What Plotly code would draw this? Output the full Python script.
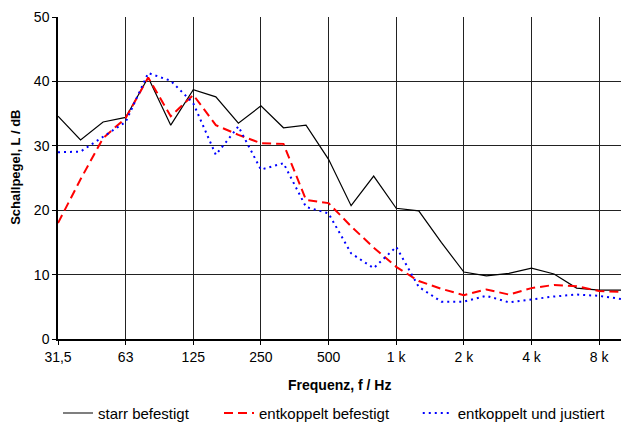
import plotly.graph_objects as go

freq_labels = ["31,5","40","50","63","80","100","125","160","200","250","315","400","500",
               "630","800","1 k","1,25 k","1,6 k","2 k","2,5 k","3,15 k","4 k","5 k","6,3 k","8 k","10 k"]
starr = [34.6,30.9,33.7,34.4,40.6,33.2,38.7,37.6,33.5,36.2,32.8,33.2,27.9,
         20.7,25.3,20.3,19.9,15.0,10.4,9.8,10.2,11.0,10.1,7.9,7.6,7.6]
entk_bef = [18.0,24.8,31.2,34.3,40.6,34.6,37.9,33.2,31.7,30.4,30.3,21.6,21.1,
            17.5,14.2,11.2,9.0,7.8,6.8,7.7,6.9,7.9,8.4,8.2,7.45,7.3]
entk_just = [29.0,29.1,31.4,33.7,41.3,40.1,36.6,28.6,33.0,26.3,27.3,20.5,19.5,
             13.3,11.0,14.3,8.1,5.8,5.8,6.7,5.7,6.2,6.6,6.9,6.7,6.2]
tick_labels = ["31,5","63","125","250","500","1 k","2 k","4 k","8 k"]
y_ticks = [0,10,20,30,40,50]

x = list(range(len(freq_labels)))
font = "Liberation Sans, Arial, sans-serif"

fig = go.Figure()
fig.add_trace(go.Scatter(x=x, y=starr, mode="lines", name="starr befestigt",
                         line=dict(color="black", width=1.2), legend="legend"))
fig.add_trace(go.Scatter(x=x, y=entk_bef, mode="lines", name="entkoppelt befestigt",
                         line=dict(color="red", width=2, dash="9px,5px"), legend="legend2"))
fig.add_trace(go.Scatter(x=x, y=entk_just, mode="lines", name="entkoppelt und justiert",
                         line=dict(color="blue", width=2, dash="2px,4px"), legend="legend3"))

leg_common = dict(orientation="h", xref="paper", yref="container", y=0.023,
                  yanchor="middle", xanchor="left", font=dict(size=15), itemwidth=30,
                  bgcolor="rgba(0,0,0,0)")

fig.update_layout(
    width=621, height=423,
    margin=dict(l=58, r=0, t=17, b=84),
    paper_bgcolor="white", plot_bgcolor="white",
    font=dict(family=font, size=14, color="black"),
    showlegend=True,
    legend=dict(x=0.0, **leg_common),
    legend2=dict(x=0.286, **leg_common),
    legend3=dict(x=0.639, **leg_common),
    xaxis=dict(range=[0, 24.97], tickmode="array",
               tickvals=[freq_labels.index(t) for t in tick_labels], ticktext=tick_labels,
               showgrid=True, gridcolor="#222", gridwidth=1,
               showline=True, linecolor="black", linewidth=1.5,
               ticks="outside", ticklen=4, tickcolor="black",
               zeroline=False, tickfont=dict(size=14), automargin=False),
    yaxis=dict(range=[0, 50], tickvals=y_ticks,
               showgrid=True, gridcolor="#222", gridwidth=1,
               showline=True, linecolor="black", linewidth=1.5,
               ticks="outside", ticklen=4, tickcolor="black",
               zeroline=False, tickfont=dict(size=14), automargin=False),
    annotations=[
        dict(text="<b>Frequenz, f / Hz</b>", xref="paper", yref="paper",
             x=0.5, y=-0.143, xanchor="center", yanchor="middle",
             showarrow=False, font=dict(size=14)),
        dict(text="<b>Schallpegel, L / dB</b>", xref="paper", yref="paper",
             x=(15.5 - 58) / 563, y=0.533, xanchor="center", yanchor="middle",
             textangle=-90, showarrow=False, font=dict(size=13)),
    ],
)
fig.write_html("out.html", config={"displayModeBar": False},
               post_script="document.body.style.margin='0';document.body.style.overflow='hidden';")
